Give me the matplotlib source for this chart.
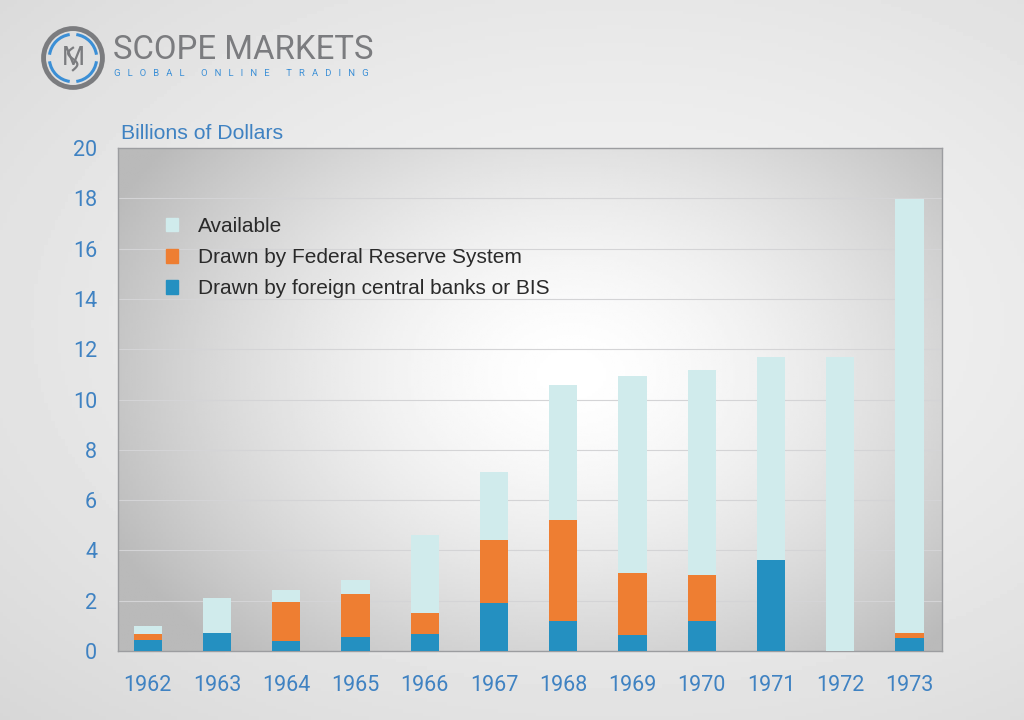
import matplotlib.pyplot as plt
import numpy as np
from matplotlib.patches import Circle, Arc, Patch

years = ['1962', '1963', '1964', '1965', '1966', '1967',
         '1968', '1969', '1970', '1971', '1972', '1973']
# drawn by foreign central banks or BIS
foreign = [0.42, 0.70, 0.41, 0.57, 0.68, 1.90, 1.19, 0.64, 1.19, 3.62, 0.0, 0.53]
# drawn by Federal Reserve System
federal = [0.24, 0.0, 1.55, 1.70, 0.84, 2.52, 4.01, 2.47, 1.84, 0.0, 0.0, 0.19]
# total facilities (available on top)
total = [1.00, 2.10, 2.42, 2.82, 4.60, 7.12, 10.58, 10.93, 11.17, 11.69, 11.69, 17.97]
available = [t - f - d for t, f, d in zip(total, foreign, federal)]

c_avail = '#d0ebec'
c_fed = '#ee7e32'
c_for = '#2490c1'
c_text = '#3f82c2'
c_logo = '#7b7c7f'

plt.rcParams['font.family'] = ['Roboto', 'DejaVu Sans']

fig = plt.figure(figsize=(10.24, 7.2), dpi=100)

# figure background gradient
bg = fig.add_axes([0, 0, 1, 1])
bg.set_axis_off()
yy, xx = np.mgrid[0:1:200j, 0:1:300j]
r = np.sqrt(((xx - 0.6) / 0.9) ** 2 + ((yy - 0.45) / 0.8) ** 2)
bg.imshow(0.955 - 0.12 * np.clip(r, 0, 1) ** 1.5, cmap='gray', vmin=0, vmax=1,
          extent=[0, 1, 0, 1], aspect='auto', origin='upper')

ax = fig.add_axes([0.1152, 0.0958, 0.8047, 0.6986])
x = np.arange(len(years))
w = 0.41

# axes radial gradient
r = np.sqrt(((xx - 0.55) / 0.62) ** 2 + ((yy - 0.45) / 0.75) ** 2)
ax.imshow(1.0 - 0.27 * np.clip(r, 0, 1) ** 1.6, cmap='gray', vmin=0, vmax=1,
          extent=[0, 1, 0, 1], aspect='auto', transform=ax.transAxes, zorder=0)

ax.bar(x, foreign, w, color=c_for, zorder=3)
ax.bar(x, federal, w, bottom=foreign, color=c_fed, zorder=3)
ax.bar(x, available, w, bottom=np.array(foreign) + np.array(federal),
       color=c_avail, zorder=3)

ax.set_xlim(-0.43, 11.47)
ax.set_ylim(0, 20)
ax.set_yticks(np.arange(0, 21, 2))
ax.set_xticks(x)
ax.set_xticklabels(years)
ax.tick_params(axis='both', length=0, labelsize=15.5, labelcolor=c_text)
ax.tick_params(axis='y', pad=15)
ax.tick_params(axis='x', pad=17)
ax.grid(axis='y', color='#d4d4d6', linewidth=0.8, zorder=1)
ax.set_axisbelow(True)
for s in ax.spines.values():
    s.set_color('#9c9da0')
    s.set_linewidth(1.0)

ax.text(0.004, 1.01, 'Billions of Dollars', transform=ax.transAxes,
        fontsize=15.3, color=c_text, ha='left', va='bottom',
        family=['Liberation Sans', 'DejaVu Sans'])

handles = [Patch(color=c_avail, label='Available'),
           Patch(color=c_fed, label='Drawn by Federal Reserve System'),
           Patch(color=c_for, label='Drawn by foreign central banks or BIS')]
ax.legend(handles=handles, loc='upper left', bbox_to_anchor=(0.035, 0.9),
          frameon=False, handlelength=0.62, handleheight=0.62,
          handletextpad=0.95, labelspacing=0.58, labelcolor='#2a2a2a',
          prop={'family': ['Liberation Sans', 'DejaVu Sans'], 'size': 15})

# logo
lg = fig.add_axes([41 / 1024, 1 - 90 / 720, 64 / 1024, 64 / 720])
lg.set_xlim(-1, 1)
lg.set_ylim(-1, 1)
lg.set_aspect('equal')
lg.set_axis_off()
lg.add_patch(Circle((0, 0), 0.92, fill=False, ec=c_logo, lw=3.5))
for a0 in (8, 98, 188, 278):
    lg.add_patch(Arc((0, 0), 1.48, 1.48, theta1=a0, theta2=a0 + 74,
                     color='#3b8fd6', lw=2.2))
lg.text(0, 0.0, 'M', fontsize=19, color=c_logo, ha='center', va='center')
# S stroke of the monogram
t = np.linspace(0, 1, 60)
sx = 0.16 * np.sin(2 * np.pi * t + np.pi) * (1 - 0.2 * t)
sy = 0.32 - 0.7 * t
lg.plot(sx, sy, color=c_logo, lw=1.6)

fig.text(113 / 1024, 1 - 50 / 720, 'SCOPE MARKETS', fontsize=23.7,
         color=c_logo, ha='left', va='center')
fig.text(114 / 1024, 1 - 74 / 720, '   '.join('GLOBAL ONLINE TRADING').replace('      ', '      '),
         fontsize=6.8, color='#3b8fd6', ha='left', va='center')

fig.savefig('out.png', dpi=100)
